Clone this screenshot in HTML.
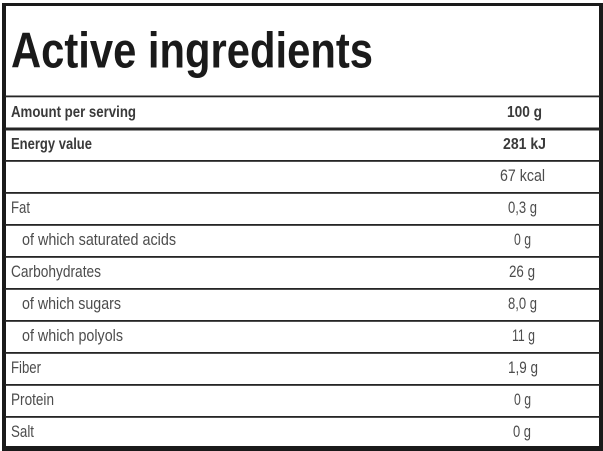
<!DOCTYPE html>
<html>
<head>
<meta charset="utf-8">
<style>
  html, body { margin:0; padding:0; background:#fff; }
  body { width:603px; height:451px; overflow:hidden; }
  svg { display:block; }
  .t { font-family:"Liberation Sans", Arial, sans-serif; }
  .title { font-weight:bold; fill:#1a1a1a; font-size:50px; }
  .b { font-weight:bold; fill:#3a3a3a; font-size:16px; }
  .r { fill:#4c4c4c; font-size:16.5px; }
</style>
</head>
<body>
<svg width="603" height="451" viewBox="0 0 603 451" xmlns="http://www.w3.org/2000/svg">
  <rect x="0" y="0" width="603" height="451" fill="#fff"/>
  <!-- outer border -->
  <rect x="2" y="3" width="601" height="3" fill="#1a1a1a"/>
  <rect x="2" y="3" width="4" height="448" fill="#1a1a1a"/>
  <rect x="599" y="3" width="4" height="448" fill="#1a1a1a"/>
  <rect x="2" y="446" width="601" height="5" fill="#1a1a1a"/>

  <!-- row lines -->
  <g fill="#252525">
    <rect x="5" y="95.5" width="595" height="1.8"/>
    <rect x="5" y="127.5" width="595" height="3"/>
    <rect x="5" y="160" width="595" height="1.8"/>
    <rect x="5" y="192" width="595" height="1.8"/>
    <rect x="5" y="224" width="595" height="1.8"/>
    <rect x="5" y="256" width="595" height="1.8"/>
    <rect x="5" y="288" width="595" height="1.8"/>
    <rect x="5" y="320" width="595" height="1.8"/>
    <rect x="5" y="352" width="595" height="1.8"/>
    <rect x="5" y="384" width="595" height="1.8"/>
    <rect x="5" y="416" width="595" height="1.8"/>
  </g>

  <!-- title -->
  <text class="t title" x="11" y="67.5" textLength="362" lengthAdjust="spacingAndGlyphs">Active ingredients</text>

  <!-- rows -->
  <text class="t b" x="11" y="117" textLength="125" lengthAdjust="spacingAndGlyphs">Amount per serving</text>
  <text class="t b" x="507" y="117" textLength="35" lengthAdjust="spacingAndGlyphs">100 g</text>

  <text class="t b" x="11" y="149" textLength="81" lengthAdjust="spacingAndGlyphs">Energy value</text>
  <text class="t b" x="503" y="149" textLength="43" lengthAdjust="spacingAndGlyphs">281 kJ</text>

  <text class="t r" x="500" y="181" textLength="45" lengthAdjust="spacingAndGlyphs">67 kcal</text>

  <text class="t r" x="11" y="213" textLength="19" lengthAdjust="spacingAndGlyphs">Fat</text>
  <text class="t r" x="508" y="213" textLength="29" lengthAdjust="spacingAndGlyphs">0,3 g</text>

  <text class="t r" x="22" y="245" textLength="154" lengthAdjust="spacingAndGlyphs">of which saturated acids</text>
  <text class="t r" x="514" y="245" textLength="17" lengthAdjust="spacingAndGlyphs">0 g</text>

  <text class="t r" x="11" y="277" textLength="90" lengthAdjust="spacingAndGlyphs">Carbohydrates</text>
  <text class="t r" x="509" y="277" textLength="26" lengthAdjust="spacingAndGlyphs">26 g</text>

  <text class="t r" x="22" y="309" textLength="99" lengthAdjust="spacingAndGlyphs">of which sugars</text>
  <text class="t r" x="508" y="309" textLength="29" lengthAdjust="spacingAndGlyphs">8,0 g</text>

  <text class="t r" x="22" y="341" textLength="101" lengthAdjust="spacingAndGlyphs">of which polyols</text>
  <text class="t r" x="512" y="341" textLength="23" lengthAdjust="spacingAndGlyphs">11 g</text>

  <text class="t r" x="11" y="373" textLength="30" lengthAdjust="spacingAndGlyphs">Fiber</text>
  <text class="t r" x="508" y="373" textLength="30" lengthAdjust="spacingAndGlyphs">1,9 g</text>

  <text class="t r" x="11" y="405" textLength="43" lengthAdjust="spacingAndGlyphs">Protein</text>
  <text class="t r" x="514" y="405" textLength="17" lengthAdjust="spacingAndGlyphs">0 g</text>

  <text class="t r" x="11" y="437" textLength="23" lengthAdjust="spacingAndGlyphs">Salt</text>
  <text class="t r" x="513" y="437" textLength="18" lengthAdjust="spacingAndGlyphs">0 g</text>
</svg>
</body>
</html>
